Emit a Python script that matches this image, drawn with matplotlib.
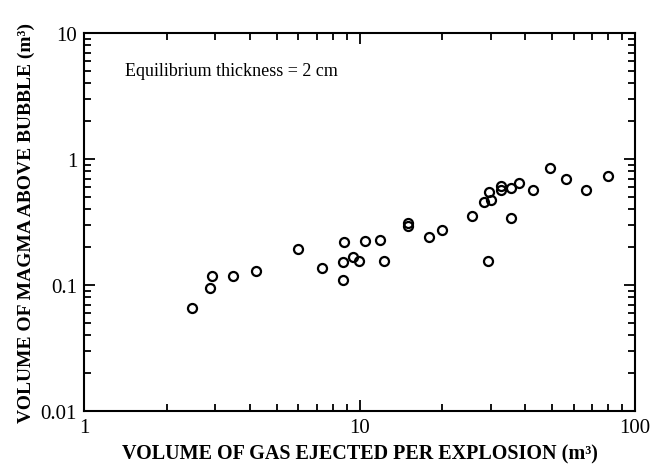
import numpy as np
import matplotlib
matplotlib.use('Agg')
import matplotlib.pyplot as plt

plt.rcParams['font.family'] = ['Liberation Serif', 'DejaVu Serif']

# Volumen de gas expulsado por explosion (m3)
gas_vol = [2.46, 2.87, 2.92, 3.46, 4.21, 5.98, 7.31, 8.76, 8.69, 8.69,
           9.49, 9.93, 10.44, 11.87, 12.24, 15.0, 15.0, 17.9, 19.9, 25.6,
           28.3, 29.6, 29.9, 29.3, 32.7, 32.7, 35.5, 35.5, 37.8, 42.5,
           49.1, 56.0, 66.4, 80.0]
# Volumen de magma sobre la burbuja (m3)
magma_vol = [0.066, 0.095, 0.117, 0.118, 0.130, 0.192, 0.136, 0.218, 0.151, 0.110,
             0.167, 0.155, 0.223, 0.229, 0.155, 0.309, 0.296, 0.240, 0.272, 0.355,
             0.453, 0.544, 0.475, 0.156, 0.607, 0.565, 0.585, 0.340, 0.645, 0.565,
             0.844, 0.694, 0.571, 0.737]

fig = plt.figure(figsize=(6.63, 4.77), dpi=100)
ax = fig.add_axes([84/663, 65/477, 551/663, 378/477])

ax.plot(gas_vol, magma_vol, linestyle='none', marker='o', markersize=6.5,
        markerfacecolor='none', markeredgecolor='black', markeredgewidth=1.6)

ax.set_xscale('log')
ax.set_yscale('log')
ax.set_xlim(1, 100)
ax.set_ylim(0.01, 10)
ax.set_xticks([1, 10, 100])
ax.set_xticklabels(['1', '10', '100'])
ax.set_yticks([0.01, 0.1, 1, 10])
ax.set_yticklabels(['0.01', '0.1', '1', '10'])

ax.tick_params(which='both', direction='in', top=True, right=True,
               width=1.3, labelsize=15, colors='black')
ax.tick_params(which='major', length=8, pad=5)
ax.tick_params(which='minor', length=5)
for s in ax.spines.values():
    s.set_linewidth(1.5)

ax.text(0.075, 0.90, 'Equilibrium thickness = 2 cm', transform=ax.transAxes,
        fontsize=13, va='center', ha='left')

ax.set_xlabel('VOLUME OF GAS EJECTED PER EXPLOSION (m³)', fontsize=14.5,
              fontweight='bold', labelpad=5)
ax.set_ylabel('VOLUME OF MAGMA ABOVE BUBBLE (m³)', fontsize=14,
              fontweight='bold', labelpad=4)

fig.savefig('out.png', dpi=100)
